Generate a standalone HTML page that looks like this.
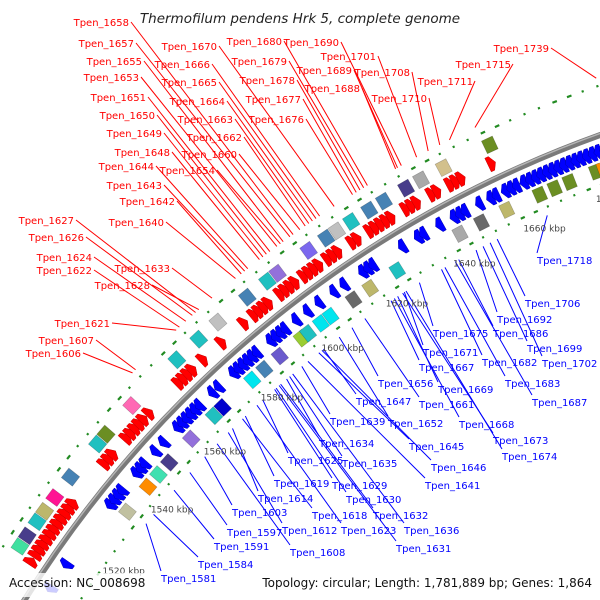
<!DOCTYPE html>
<html><head><meta charset="utf-8"><style>
html,body{margin:0;padding:0;background:#fff;width:600px;height:600px;overflow:hidden}
svg{display:block;overflow:hidden}
text{font-family:"DejaVu Sans","Liberation Sans",sans-serif}
</style></head><body>
<svg id="map" width="600" height="600" viewBox="0 0 600 600" xmlns="http://www.w3.org/2000/svg">
<rect width="600" height="600" fill="#fff"/>
<g id="rings"></g><g id="feat"></g><g id="lines"></g><g id="labels"></g>
<rect x="0" y="573" width="150" height="24" fill="#fff" opacity="0.8"/>
<rect x="256" y="573" width="344" height="24" fill="#fff" opacity="0.8"/>
<text x="300" y="23" text-anchor="middle" font-size="13.5" font-style="italic" fill="#222">Thermofilum pendens Hrk 5, complete genome</text>
<text x="9" y="587" font-size="12" fill="#111">Accession: NC_008698</text>
<text x="592" y="587" text-anchor="end" font-size="12" fill="#111">Topology: circular; Length: 1,781,889 bp; Genes: 1,864</text>
</svg>
<script>
var fwdGenes=[1508,1510,1511.5,1513,1514.5,1516,1517.5,1519,1520.5,1522,1523.5,1525,1537,1538.5,1540,1545,1546.5,1548,1549.5,1551,1553,1563,1564.5,1566,1567.5,1571,1577,1584,1587,1588.5,1590,1591.5,1595,1596.5,1598,1599.5,1602,1603.5,1605,1606.5,1609,1610.5,1612,1616,1617.5,1621,1622.5,1624,1625.5,1627,1631,1632.5,1634,1638,1639.5,1643,1644.5,1646,1654,1684,1690];
var revGenes=[1505,1512,1530,1531.5,1533,1534.5,1540,1541.5,1543,1547,1550,1555,1556.5,1558,1559.5,1561,1562.5,1567,1569,1574,1575.5,1577,1578.5,1580,1581.5,1586,1587.5,1589,1590.5,1594,1597.5,1601,1605.5,1608.5,1614,1615.5,1617,1625.5,1630,1631.5,1636,1640,1641.5,1643,1647,1650,1651.5,1654,1655.5,1657,1659,1660.5,1662,1663.5,1665,1666.5,1668,1669.5,1671,1672.5,1674,1675.5,1677,1678.5,1680,1681.5,1683,1684.5,1686,1687.5,1689,1690.5,1692];
var outerBoxK=[1509,1512,1516,1519,1523,1529,1539,1542,1551,1566,1573,1579,1588,1594,1597,1606,1611,1614,1618,1623,1627,1633,1637,1643,1655,1685];
var outerBoxColor=['#40e0a0','#483d8b','#20c0c0','#bdb76b','#ff1493','#4682b4','#20c0c0','#6b8e23','#ff69b4','#20c0c0','#20c0c0','#c0c0c0','#4682b4','#20c0c0','#9370db','#7b68ee','#4682b4','#c0c0c0','#20c0c0','#4682b4','#4682b4','#483d8b','#a9a9a9','#d2c08c','#6b8e23','#483d8b'];
var innerBoxK=[1531,1539,1543,1547,1555,1563,1566,1576,1580,1585,1592,1594,1598,1601,1608,1613,1621,1639,1645,1652,1661,1665,1669,1676,1678];
var innerBoxColor=['#c0c0a0','#ff8c00','#40e0b0','#483d8b','#9370db','#20c0c0','#0000cd','#00e5ee','#4682b4','#6a5acd','#9acd32','#20c0c0','#00e5ee','#00e5ee','#696969','#bdb76b','#20c0c0','#a9a9a9','#696969','#bdb76b','#6b8e23','#6b8e23','#6b8e23','#6b8e23','#ff8c00'];
var kbpTicks=[1520,1540,1560,1580,1600,1620,1640,1660,1680];
var redNames=['Tpen_1658','Tpen_1657','Tpen_1655','Tpen_1653','Tpen_1651','Tpen_1650','Tpen_1649','Tpen_1648','Tpen_1644','Tpen_1643','Tpen_1642','Tpen_1640','Tpen_1627','Tpen_1626','Tpen_1624','Tpen_1622','Tpen_1633','Tpen_1628','Tpen_1621','Tpen_1607','Tpen_1606','Tpen_1670','Tpen_1666','Tpen_1665','Tpen_1664','Tpen_1663','Tpen_1662','Tpen_1660','Tpen_1654','Tpen_1680','Tpen_1679','Tpen_1678','Tpen_1677','Tpen_1676','Tpen_1690','Tpen_1689','Tpen_1688','Tpen_1701','Tpen_1708','Tpen_1710','Tpen_1711','Tpen_1715','Tpen_1739'];
var redKbp=[1606.6,1605.7,1603.8,1602,1600,1599,1598,1597,1593.6,1592.7,1591.7,1590,1578,1577,1575,1573,1583,1579,1572,1559,1558,1618,1614,1613,1612,1611,1610,1608.5,1603,1627,1626,1625,1624,1623,1636,1635,1634.5,1640,1643,1646,1648.5,1655,1685];
var redX=[129,134,142,139,146,155,162,170,154,162,175,164,74,84,92,92,170,150,110,94,81,217,210,217,225,233,242,237,215,282,287,295,301,304,339,352,360,376,410,427,473,511,549];
var redY=[22,43,61,77,97,115,133,152,166,185,201,222,220,237,257,270,268,285,323,340,353,46,64,82,101,119,137,154,170,41,61,80,99,119,42,70,88,56,72,98,81,64,48];
var blueNames=['Tpen_1718','Tpen_1706','Tpen_1692','Tpen_1686','Tpen_1699','Tpen_1675','Tpen_1702','Tpen_1682','Tpen_1671','Tpen_1667','Tpen_1683','Tpen_1656','Tpen_1669','Tpen_1687','Tpen_1647','Tpen_1661','Tpen_1652','Tpen_1668','Tpen_1639','Tpen_1673','Tpen_1634','Tpen_1645','Tpen_1674','Tpen_1635','Tpen_1646','Tpen_1625','Tpen_1619','Tpen_1629','Tpen_1641','Tpen_1630','Tpen_1614','Tpen_1618','Tpen_1632','Tpen_1603','Tpen_1612','Tpen_1623','Tpen_1636','Tpen_1597','Tpen_1591','Tpen_1608','Tpen_1631','Tpen_1584','Tpen_1581'];
var blueKbp=[1662,1648,1642,1637,1644,1625.5,1646,1632,1621,1617,1633,1605,1619,1636,1596,1609,1601,1618,1589,1620.5,1584,1594.5,1621.5,1585,1595.5,1576,1570,1580,1591,1580.5,1565.5,1569,1582,1555.5,1564,1574,1586,1550,1544,1560,1581.5,1536,1533];
var blueX=[537,525,497,493,527,433,542,482,423,419,505,378,438,532,356,419,388,459,330,493,319,409,502,342,431,288,274,332,425,346,258,312,373,232,282,341,404,227,214,290,396,198,161];
var blueY=[260,303,319,333,348,333,363,362,352,367,383,383,389,402,401,404,423,424,421,440,443,446,456,463,467,460,483,485,485,499,498,515,515,512,530,530,530,532,546,552,548,564,578];

var NS='http://www.w3.org/2000/svg';
var CX=980,CY=1194,R=1125;
function ang(k){return (-127+(k-1600)*0.212)*Math.PI/180;}
function P(k,r){var a=ang(k);return [CX+r*Math.cos(a),CY+r*Math.sin(a)];}
function mk(tag,parent){var e=document.createElementNS(NS,tag);document.getElementById(parent).appendChild(e);return e;}
function pts(arr){return arr.map(function(p){return p[0].toFixed(1)+','+p[1].toFixed(1);}).join(' ');}

var a0=ang(1480),a1=ang(1720);
function arcD(r){var s=[CX+r*Math.cos(a0),CY+r*Math.sin(a0)],e=[CX+r*Math.cos(a1),CY+r*Math.sin(a1)];return 'M'+s[0]+','+s[1]+' A'+r+','+r+' 0 0 1 '+e[0]+','+e[1];}
var bb=mk('path','rings');
bb.setAttribute('d',arcD(R));bb.setAttribute('stroke','#7a7a7a');bb.setAttribute('stroke-width','6');bb.setAttribute('fill','none');


var bb2=mk('path','rings');
bb2.setAttribute('d',arcD(R+1.5));bb2.setAttribute('stroke','#b5b5b5');bb2.setAttribute('stroke-width','1.5');bb2.setAttribute('fill','none');



for(var k=1490;k<1720;k+=3.6){
  [R+47,R-47].forEach(function(rr,i){
    var l=mk('line','rings');var p1=P(k,rr),p2=P(k+0.5+((Math.round(k)%3===0)?0.6:0),rr);
    l.setAttribute('x1',p1[0]);l.setAttribute('y1',p1[1]);l.setAttribute('x2',p2[0]);l.setAttribute('y2',p2[1]);
    l.setAttribute('stroke','#228b22');l.setAttribute('stroke-width','2.2');
    
    
  });
}

var GL=1.9,TIP=1.0;
fwdGenes.forEach(function(k){
  var g=mk('polygon','feat');var e=k+GL;
  g.setAttribute('points',pts([P(k,R+8),P(e-TIP,R+8),P(e,R+15),P(e-TIP,R+23),P(k,R+23)]));
  g.setAttribute('fill','#ff0000');g.setAttribute('stroke','#c00000');g.setAttribute('stroke-width','0.5');
  
  
});
revGenes.forEach(function(k){
  var g=mk('polygon','feat');var e=k+GL;
  g.setAttribute('points',pts([P(k,R-15),P(k+TIP,R-8),P(e,R-8),P(e,R-23),P(k+TIP,R-23)]));
  g.setAttribute('fill','#0000ff');g.setAttribute('stroke','#0000b0');g.setAttribute('stroke-width','0.5');
  
  
});
function box(k,c,r1,r2,name){
  var b=mk('polygon','feat');var e=k+2.8;
  b.setAttribute('points',pts([P(k,r1),P(e,r1),P(e,r2),P(k,r2)]));
  b.setAttribute('fill',c);b.setAttribute('stroke','rgba(0,0,0,0.25)');b.setAttribute('stroke-width','0.6');
  
  
}
outerBoxK.forEach(function(k,i){box(k,outerBoxColor[i],R+26,R+40,'outer-cog-box');});
innerBoxK.forEach(function(k,i){box(k,innerBoxColor[i],R-26,R-40,'inner-cog-box');});

kbpTicks.forEach(function(k){
  var p=P(k,R-66);
  var t=mk('text','labels');t.setAttribute('x',p[0]);t.setAttribute('y',p[1]+3);
  t.setAttribute('text-anchor','middle');t.setAttribute('font-size','9');t.setAttribute('fill','#444');
  t.textContent=k+' kbp';
  
  
});

redNames.forEach(function(n,i){
  var e=P(redKbp[i],R+55);
  var l=mk('line','lines');l.setAttribute('x1',redX[i]+2);l.setAttribute('y1',redY[i]);l.setAttribute('x2',e[0]);l.setAttribute('y2',e[1]);
  l.setAttribute('stroke','#ff0000');l.setAttribute('stroke-width','1');
  
  
  var t=mk('text','labels');t.setAttribute('x',redX[i]);t.setAttribute('y',redY[i]+4);t.setAttribute('text-anchor','end');
  t.setAttribute('font-size','10');t.setAttribute('fill','#ff0000');t.textContent=n;
  
  
});
blueNames.forEach(function(n,i){
  var e=P(blueKbp[i],R-55);
  var l=mk('line','lines');l.setAttribute('x1',blueX[i]);l.setAttribute('y1',blueY[i]-7);l.setAttribute('x2',e[0]);l.setAttribute('y2',e[1]);
  l.setAttribute('stroke','#0000ff');l.setAttribute('stroke-width','1');
  
  
  var t=mk('text','labels');t.setAttribute('x',blueX[i]);t.setAttribute('y',blueY[i]+4);
  t.setAttribute('font-size','10');t.setAttribute('fill','#0000ff');t.textContent=n;
  
  
});
</script>
</body></html>
